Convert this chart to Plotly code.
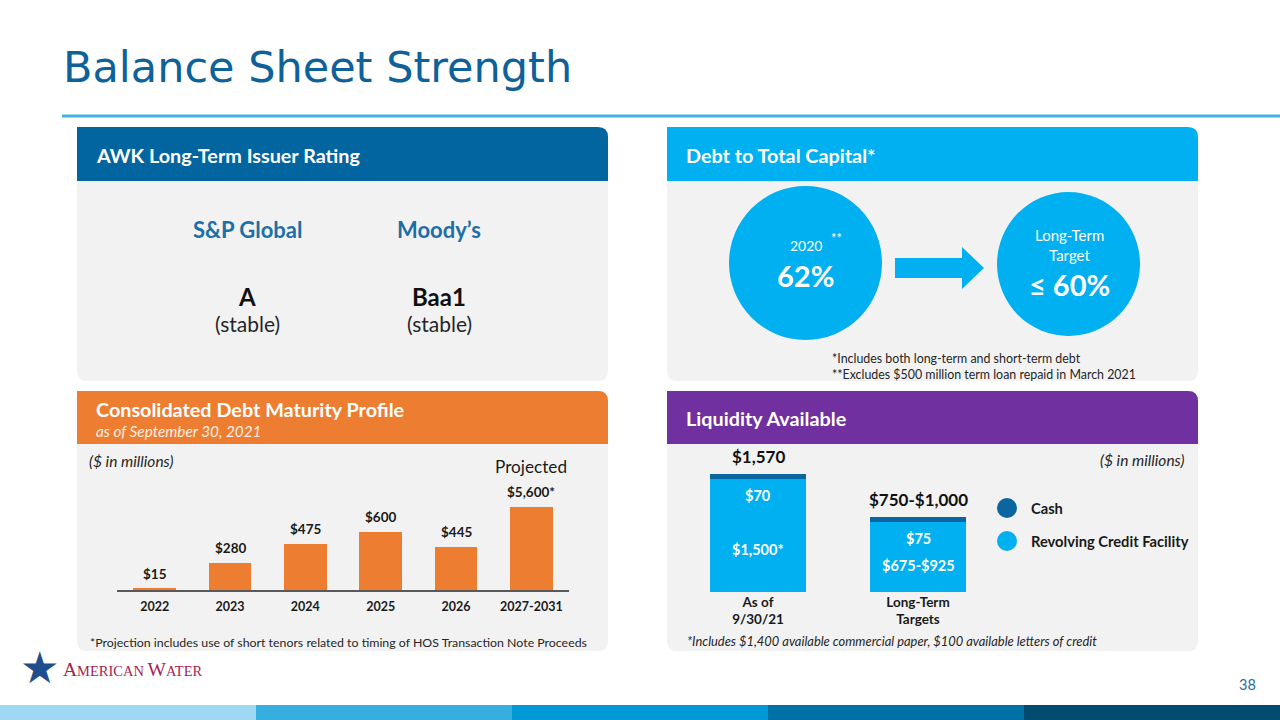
import plotly.graph_objects as go

# ---------------- data ----------------
maturity_years = ["2022", "2023", "2024", "2025", "2026", "2027-2031"]
maturity_values = [15, 280, 475, 600, 445, 5600]
maturity_projected = [False, False, False, False, False, True]

liquidity_categories = ["As of<br>9/30/21", "Long-Term<br>Targets"]
liquidity_rcf = [1500, 925]          # second bar: upper end of the $675-$925 range
liquidity_cash = [70, 75]
liquidity_rcf_labels = ["$1,500*", "$675-$925"]
liquidity_cash_labels = ["$70", "$75"]
liquidity_total_labels = ["$1,570", "$750-$1,000"]

rating_agencies = ["S&P Global", "Moody’s"]
rating_grades = ["A", "Baa1"]
rating_outlooks = ["(stable)", "(stable)"]

debt_to_capital_2020 = 62
debt_to_capital_target = 60

# ---------------- layout helpers ----------------
W, H = 1280, 720
FONT = "Lato"
DARK = "#1a1a1a"
BLUE_TXT = "#1d6fa5"
HDR = 19.8


def X(p):
    return p / W


def Y(p):
    return 1 - p / H


shapes = []
annotations = []


def rect(x0, y0, x1, y1, color):
    shapes.append(dict(type="rect", xref="paper", yref="paper", x0=X(x0), x1=X(x1),
                       y0=Y(y1), y1=Y(y0), fillcolor=color, line=dict(width=0), layer="below"))


def rounded(x0, y0, x1, y1, color, tl=0, tr=0, br=0, bl=0):
    def P(x, y):
        return f"{X(x):.5f},{Y(y):.5f}"
    d = (f"M{P(x0 + tl, y0)} L{P(x1 - tr, y0)} Q{P(x1, y0)} {P(x1, y0 + tr)} "
         f"L{P(x1, y1 - br)} Q{P(x1, y1)} {P(x1 - br, y1)} "
         f"L{P(x0 + bl, y1)} Q{P(x0, y1)} {P(x0, y1 - bl)} "
         f"L{P(x0, y0 + tl)} Q{P(x0, y0)} {P(x0 + tl, y0)} Z")
    shapes.append(dict(type="path", xref="paper", yref="paper", path=d,
                       fillcolor=color, line=dict(width=0), layer="below"))


def ellipse(x0, y0, x1, y1, color):
    shapes.append(dict(type="circle", xref="paper", yref="paper", x0=X(x0), x1=X(x1),
                       y0=Y(y1), y1=Y(y0), fillcolor=color, line=dict(width=0), layer="below"))


def polygon(points, color):
    d = "M" + " L".join(f"{X(x):.5f},{Y(y):.5f}" for x, y in points) + " Z"
    shapes.append(dict(type="path", xref="paper", yref="paper", path=d,
                       fillcolor=color, line=dict(width=0), layer="below"))


def text(x, y, s, size, color=DARK, xanchor="center", family=FONT, yanchor="middle"):
    annotations.append(dict(x=X(x), y=Y(y), xref="paper", yref="paper", text=s,
                            showarrow=False, xanchor=xanchor, yanchor=yanchor,
                            font=dict(family=family, size=size, color=color)))


# ---------------- slide decoration ----------------
text(61, 67, "Balance Sheet Strength", 43, "#0e6199", "left", "DejaVu Sans")
shapes.append(dict(type="line", xref="paper", yref="paper", x0=X(62), x1=1,
                   y0=Y(116), y1=Y(116), line=dict(color="#41b4e6", width=3)))

# panels
PANEL_BG = "#f2f2f2"
rounded(77, 127, 608, 181, "#03659f", tr=10)
rounded(77, 181, 608, 381, PANEL_BG, br=10, bl=10)
rounded(667, 127, 1198, 181, "#00b0f0", tr=10)
rounded(667, 181, 1198, 381, PANEL_BG, br=10, bl=10)
rounded(77, 391, 608, 444, "#ed7d31", tr=10)
rounded(77, 444, 608, 651, PANEL_BG, br=10, bl=10)
rounded(667, 391, 1198, 444, "#7030a0", tr=10)
rounded(667, 444, 1198, 651, PANEL_BG, br=10, bl=10)

# headers
text(94, 155, "<b>AWK Long-Term Issuer Rating</b>", HDR, "white", "left")
text(684, 155, "<b>Debt to Total Capital*</b>", HDR, "white", "left")
text(94, 409, "<b>Consolidated Debt Maturity Profile</b>", HDR, "white", "left")
text(94, 431, "<i>as of September 30, 2021</i>", 15.3, "#fdf0e6", "left")
text(684, 418, "<b>Liquidity Available</b>", HDR, "white", "left")

# ---------------- ratings panel ----------------
rating_x = [247, 439]
for cx, agency, grade, outlook in zip(rating_x, rating_agencies, rating_grades, rating_outlooks):
    text(cx, 230, f"<b>{agency}</b>", 22, BLUE_TXT)
    text(cx, 296, f"<b>{grade}</b>", 24, "#111111")
    text(cx, 323, outlook, 21, "#262626")

# ---------------- debt to capital panel ----------------
CIRCLE = "#00b0f0"
ellipse(729, 186, 882, 340, CIRCLE)
ellipse(997, 192, 1140, 336, CIRCLE)
polygon([(895, 258), (962, 258), (962, 247), (984, 268), (962, 289), (962, 278), (895, 278)], CIRCLE)
text(806, 245, "2020", 14, "white")
text(836, 238, "**", 13, "white")
text(805, 275, f"<b>{debt_to_capital_2020}%</b>", 29, "white")
text(1069, 235, "Long-Term", 15, "white")
text(1069, 255, "Target", 15, "white")
text(1069, 285, f"<b>≤ {debt_to_capital_target}%</b>", 29, "white")
text(830, 358, "*Includes both long-term and short-term debt", 12.4, "#262626", "left")
text(830, 374, "**Excludes $500 million term loan repaid in March 2021", 12.4, "#262626", "left")

# ---------------- maturity panel ----------------
text(87, 461, "<i>($ in millions)</i>", 15.5, "#262626", "left")
text(88, 642, "*Projection includes use of short tenors related to timing of HOS Transaction Note Proceeds",
     12.35, "#262626", "left")

MAT_YMAX = 865  # axis top; the 2027-2031 bar is truncated by the plot area as in the original

fig = go.Figure()
fig.add_bar(x=maturity_years, y=maturity_values, xaxis="x", yaxis="y",
            marker=dict(color="#ed7d31", line=dict(width=0)), width=0.57,
            hoverinfo="skip", showlegend=False)

for i, (v, proj) in enumerate(zip(maturity_values, maturity_projected)):
    annotations.append(dict(x=i, y=min(v, MAT_YMAX), xref="x", yref="y",
                            text=f"<b>${v:,}{'*' if proj else ''}</b>", showarrow=False,
                            yanchor="bottom", yshift=5,
                            font=dict(family=FONT, size=13.5, color=DARK)))
    if proj:
        annotations.append(dict(x=i, y=min(v, MAT_YMAX), xref="x", yref="y",
                                text="Projected", showarrow=False, yanchor="bottom", yshift=28,
                                font=dict(family=FONT, size=17.2, color=DARK)))

# ---------------- liquidity panel ----------------
CASH = "#0a66a0"
RCF = "#00b0f0"
fig.add_bar(x=liquidity_categories, y=liquidity_rcf, xaxis="x2", yaxis="y2", name="Revolving Credit Facility",
            marker=dict(color=RCF, line=dict(width=0)), width=0.6, hoverinfo="skip", showlegend=False)
fig.add_bar(x=liquidity_categories, y=liquidity_cash, xaxis="x2", yaxis="y2", name="Cash",
            marker=dict(color=CASH, line=dict(width=0)), width=0.6, hoverinfo="skip", showlegend=False)

for i, (r, c, rl, cl, tl) in enumerate(zip(liquidity_rcf, liquidity_cash, liquidity_rcf_labels,
                                           liquidity_cash_labels, liquidity_total_labels)):
    annotations.append(dict(x=i, y=r * 0.38, xref="x2", yref="y2", text=f"<b>{rl}</b>",
                            showarrow=False, font=dict(family=FONT, size=14.5, color="white")))
    annotations.append(dict(x=i, y=r + c, xref="x2", yref="y2", text=f"<b>{cl}</b>",
                            showarrow=False, yanchor="top", yshift=-11,
                            font=dict(family=FONT, size=14.5, color="white")))
    annotations.append(dict(x=i, y=r + c, xref="x2", yref="y2", text=f"<b>{tl}</b>",
                            showarrow=False, yanchor="bottom", yshift=5,
                            font=dict(family=FONT, size=17, color="#111111")))

text(1187, 460, "<i>($ in millions)</i>", 15.5, "#262626", "right")
ellipse(997, 498, 1017, 518, CASH)
ellipse(997, 531, 1017, 551, RCF)
text(1029, 508, "<b>Cash</b>", 14.7, DARK, "left")
text(1029, 541, "<b>Revolving Credit Facility</b>", 14.7, DARK, "left")
text(685, 641, "<i>*Includes $1,400 available commercial paper, $100 available letters of credit</i>",
     12.9, "#262626", "left")

# ---------------- footer ----------------
text(39, 667, "★", 44, "#1f4e8f", family="DejaVu Sans")
text(61, 669, "<span style='font-size:19.5px'>A</span>MERICAN <span style='font-size:19.5px'>W</span>ATER",
     14.5, "#a8234f", "left", "Liberation Serif")
text(1247, 684, "38", 14.5, BLUE_TXT)
strip = ["#9fd8f3", "#37aee0", "#0099d8", "#0071a7", "#004b70"]
for i, col in enumerate(strip):
    rect(i * 256, 705, (i + 1) * 256, 720, col)

fig.update_layout(
    width=W, height=H, margin=dict(l=0, r=0, t=0, b=0),
    paper_bgcolor="white", plot_bgcolor="rgba(0,0,0,0)",
    barmode="stack", showlegend=False,
    shapes=shapes, annotations=annotations,
    xaxis=dict(domain=[X(117), X(569)], anchor="y", type="category",
               range=[-0.5, len(maturity_years) - 0.5], showline=True,
               linecolor="#595959", linewidth=1.5, ticks="", showgrid=False, zeroline=False,
               ticklabelstandoff=4,
               tickfont=dict(family=FONT, size=12.5, color=DARK, weight="bold"), fixedrange=True),
    yaxis=dict(domain=[Y(590), Y(507)], range=[0, MAT_YMAX], visible=False, fixedrange=True),
    xaxis2=dict(domain=[X(678), X(998)], anchor="y2", type="category",
                range=[-0.5, len(liquidity_categories) - 0.5], showline=False,
                ticks="", showgrid=False, zeroline=False,
                tickfont=dict(family=FONT, size=13.5, color=DARK, weight="bold"), fixedrange=True),
    yaxis2=dict(domain=[Y(592), Y(440)], range=[0, 2020], visible=False, fixedrange=True),
)

fig.write_html("out.html", config={"displayModeBar": False},
               post_script="document.body.style.margin='0';")
